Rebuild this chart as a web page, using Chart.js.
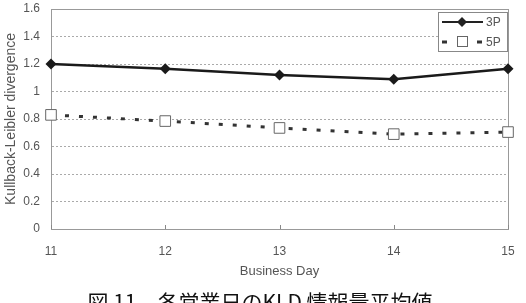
<!DOCTYPE html>
<html>
<head>
<meta charset="utf-8">
<script src="https://cdn.jsdelivr.net/npm/chart.js@4/dist/chart.umd.min.js"></script>
<style>
  html, body { margin: 0; padding: 0; background: #fff; }
  #wrap { width: 526px; height: 303px; }
</style>
</head>
<body>
<div id="wrap"><canvas id="c" width="526" height="303"></canvas></div>
<script>
const days = ['11', '12', '13', '14', '15'];
const kl3P = [1.20, 1.165, 1.12, 1.09, 1.165];
const kl5P = [0.83, 0.785, 0.735, 0.69, 0.705];
const yTicks = [0, 0.2, 0.4, 0.6, 0.8, 1, 1.2, 1.4, 1.6];
const caption = '図 11　各営業日のKLD 情報量平均値';

const FONT = '"Liberation Sans", Arial, sans-serif';

// legend box drawn inside the plot, upper right
const boxLegend = {
  id: 'boxLegend',
  afterDatasetsDraw(chart) {
    const ctx = chart.ctx;
    const a = chart.chartArea;
    const x0 = Math.round(a.right) - 70, y0 = Math.round(a.top) + 3, w = 69, h = 39;
    ctx.save();
    ctx.fillStyle = '#fff';
    ctx.fillRect(x0, y0, w, h);
    ctx.strokeStyle = '#888';
    ctx.lineWidth = 1;
    ctx.strokeRect(x0 + 0.5, y0 + 0.5, w, h);
    // 3P
    let y = y0 + 10;
    ctx.strokeStyle = '#222';
    ctx.lineWidth = 2;
    ctx.beginPath(); ctx.moveTo(x0 + 4, y); ctx.lineTo(x0 + 45, y); ctx.stroke();
    ctx.fillStyle = '#222';
    ctx.beginPath();
    ctx.moveTo(x0 + 24, y - 5); ctx.lineTo(x0 + 29, y); ctx.lineTo(x0 + 24, y + 5); ctx.lineTo(x0 + 19, y);
    ctx.closePath(); ctx.fill();
    ctx.font = '12px ' + FONT;
    ctx.fillStyle = '#555';
    ctx.textBaseline = 'middle';
    ctx.fillText('3P', x0 + 48, y + 1);
    // 5P
    y = y0 + 30;
    ctx.fillStyle = '#333';
    ctx.fillRect(x0 + 4, y - 1.5, 5, 3);
    ctx.fillRect(x0 + 39, y - 1.5, 5, 3);
    ctx.strokeStyle = '#666';
    ctx.lineWidth = 1;
    ctx.strokeRect(x0 + 19.5, y - 5.5, 10, 10);
    ctx.fillStyle = '#555';
    ctx.fillText('5P', x0 + 48, y + 1);
    ctx.restore();
  }
};

// small tick marks pointing up from the x axis, plus the figure caption
const innerTicks = {
  id: 'innerTicks',
  afterDraw(chart) {
    const ctx = chart.ctx;
    const xs = chart.scales.x;
    const a = chart.chartArea;
    ctx.save();
    ctx.strokeStyle = '#888';
    ctx.lineWidth = 1;
    xs.ticks.forEach((t, i) => {
      const px = Math.round(xs.getPixelForTick(i)) + 0.5;
      ctx.beginPath(); ctx.moveTo(px, a.bottom); ctx.lineTo(px, a.bottom - 4); ctx.stroke();
    });
    ctx.font = '21px "Noto Sans CJK JP", sans-serif';
    ctx.fillStyle = '#111';
    ctx.textAlign = 'center';
    ctx.textBaseline = 'middle';
    ctx.fillText(caption, 260, 302);
    ctx.restore();
  }
};

const frame = {
  id: 'frame',
  beforeDatasetsDraw(chart) {
    const a = chart.chartArea, ctx = chart.ctx;
    ctx.save();
    ctx.strokeStyle = '#999';
    ctx.lineWidth = 1;
    ctx.setLineDash([]);
    ctx.strokeRect(Math.round(a.left) + 0.5, Math.round(a.top) + 0.5,
      Math.round(a.right - a.left), Math.round(a.bottom - a.top));
    ctx.restore();
  }
};

new Chart(document.getElementById('c'), {
  type: 'line',
  data: {
    labels: days,
    datasets: [
      {
        label: '3P',
        data: kl3P,
        borderColor: '#1a1a1a',
        backgroundColor: '#1a1a1a',
        borderWidth: 2.5,
        pointStyle: 'rectRot',
        pointRadius: 5.5,
        pointBorderWidth: 0,
        tension: 0,
        clip: false
      },
      {
        label: '5P',
        data: kl5P,
        borderColor: '#333',
        borderWidth: 3,
        borderDash: [4, 10],
        pointStyle: 'rect',
        pointRadius: 7.5,
        pointBackgroundColor: '#fff',
        pointBorderColor: '#666',
        pointBorderWidth: 1,
        tension: 0,
        clip: false
      }
    ]
  },
  options: {
    responsive: false,
    animation: false,
    layout: { autoPadding: false, padding: { left: 3, right: 18, top: 9, bottom: 24 } },
    plugins: {
      legend: { display: false },
      tooltip: { enabled: false },
      title: { display: false }
    },
    scales: {
      x: {
        offset: false,
        afterFit(scale) {
          scale.height = 50;
          scale.paddingLeft = 0; scale.paddingRight = 0;
          scale.paddingTop = 0; scale.paddingBottom = 0;
        },
        grid: { display: false, drawTicks: false },
        border: { color: '#888', width: 1 },
        ticks: {
          color: '#555',
          padding: 15,
          font: { family: FONT, size: 12 }
        },
        title: {
          display: true,
          text: 'Business Day',
          color: '#555',
          padding: { top: 0, bottom: 0 },
          font: { family: FONT, size: 13 }
        }
      },
      y: {
        min: 0,
        max: 1.6,
        afterFit(scale) {
          scale.width = 48;
          scale.paddingTop = 0; scale.paddingBottom = 0;
          scale.paddingLeft = 0; scale.paddingRight = 0;
        },
        afterBuildTicks(scale) { scale.ticks = yTicks.map(v => ({ value: v })); },
        grid: {
          color: '#aaa',
          drawTicks: false
        },
        border: { color: '#888', width: 1, dash: [2, 2] },
        ticks: {
          color: '#555',
          padding: 11,
          font: { family: FONT, size: 12 },
          callback: v => String(v)
        },
        title: {
          display: true,
          text: 'Kullback-Leibler divergence',
          color: '#555',
          padding: { top: 0, bottom: 0 },
          font: { family: FONT, size: 14 }
        }
      }
    }
  },
  plugins: [frame, innerTicks, boxLegend]
});
</script>
</body>
</html>
